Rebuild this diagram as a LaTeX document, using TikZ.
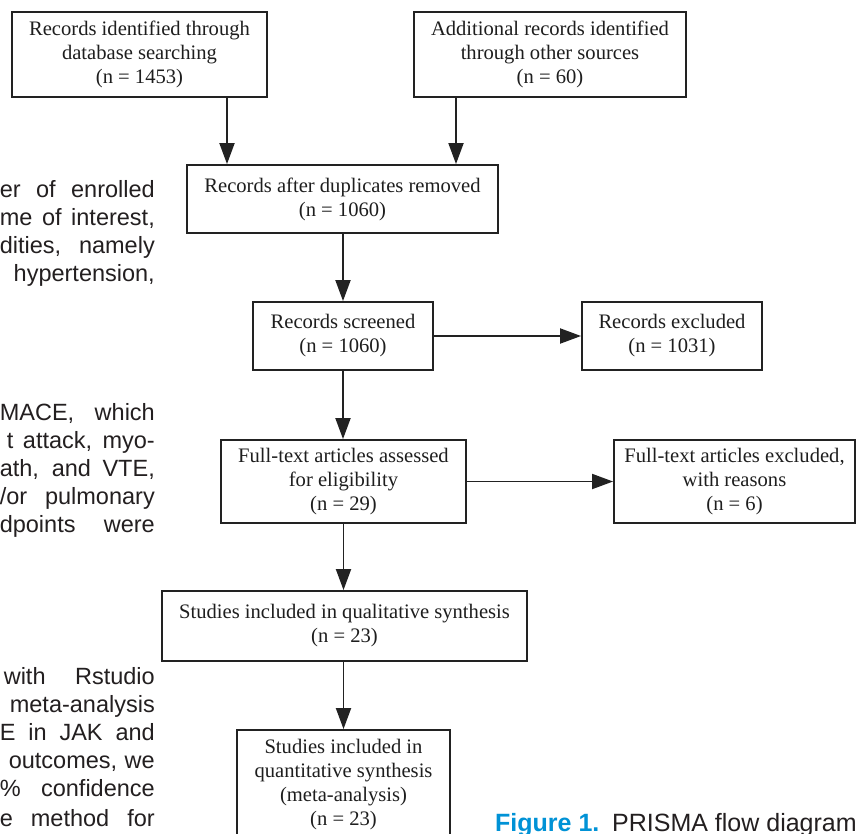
\documentclass[tikz,border=0pt]{standalone}
\usepackage{fontspec}
\setmainfont{Liberation Serif}
\newfontfamily\bodysans{Liberation Sans}
\usetikzlibrary{arrows.meta}
\definecolor{bodytext}{HTML}{231F20}
\definecolor{capblue}{RGB}{0,146,214}
\definecolor{boxline}{HTML}{222222}
\definecolor{boxtext}{HTML}{1E1E1E}
\begin{document}
\begin{tikzpicture}[x=1pt,y=-1pt,
  fbox/.style={draw=boxline, line width=1.9pt, text=boxtext, align=center,
    inner sep=0pt, font=\fontsize{20.6}{24}\selectfont},
  arr/.style={draw=boxline, line width=1.9pt, -{Triangle[length=21pt,width=15pt]}},
  sidetext/.style={anchor=base east, inner sep=0pt, text=bodytext,
    font=\bodysans\fontsize{23.5}{28}\selectfont},
  captext/.style={inner sep=0pt, font=\bodysans\fontsize{25}{28}\selectfont},
]
\useasboundingbox (0,0) rectangle (861,833);
\clip (0,0) rectangle (861,833);
\fill[white] (0,0) rectangle (861,833);

% boxes
\node[fbox, minimum width=255pt, minimum height=85pt] (A) at (139.5,54.5)
  {Records identified through\\database searching\\(n = 1453)};
\node[fbox, minimum width=272pt, minimum height=85pt] (B) at (550,54.5)
  {Additional records identified\\through other sources\\(n = 60)};
\node[fbox, minimum width=311pt, minimum height=68pt] (C) at (342.5,199)
  {Records after duplicates removed\\(n = 1060)};
\node[fbox, minimum width=180pt, minimum height=68pt] (D) at (343,336)
  {Records screened\\(n = 1060)};
\node[fbox, minimum width=180pt, minimum height=68pt] (E) at (672,336)
  {Records excluded\\(n = 1031)};
\node[fbox, minimum width=245pt, minimum height=83pt] (F) at (343.5,481.5)
  {Full-text articles assessed\\for eligibility\\(n = 29)};
\node[fbox, minimum width=241pt, minimum height=83pt] (G) at (734.5,481.5)
  {Full-text articles excluded,\\with reasons\\(n = 6)};
\node[fbox, minimum width=365pt, minimum height=70pt] (H) at (344.5,626)
  {Studies included in qualitative synthesis\\(n = 23)};
\node[fbox, minimum width=213pt, minimum height=110pt] (I) at (343.5,785)
  {Studies included in\\quantitative synthesis\\(meta-analysis)\\(n = 23)};

% connectors
\coordinate (ax) at (227,0);
\coordinate (bx) at (456,0);
\draw[arr] (A.south -| ax) -- (C.north -| ax);
\draw[arr] (B.south -| bx) -- (C.north -| bx);
\draw[arr] (C.south -| D.north) -- (D.north);
\draw[arr] (D.east) -- (E.west);
\draw[arr] (D.south) -- (D.south |- F.north);
\draw[arr] (F.east) -- (G.west);
\draw[arr] (F.south) -- (F.south |- H.north);
\draw[arr] (I.north |- H.south) -- (I.north);

% surrounding body text
\node[sidetext] (t1) at (155,197) {\makebox[155pt][s]{er of enrolled}};
\node[sidetext] (t2) at (155,225) {\makebox[155pt][s]{me of interest,}};
\node[sidetext] (t3) at (155,253) {\makebox[155pt][s]{dities, namely}};
\node[sidetext] (t4) at (155,281) {hypertension,};
\node[sidetext] (t5) at (155,420) {\makebox[155pt][s]{MACE, which}};
\node[sidetext] (t6) at (155,448) {\makebox[148pt][s]{t attack, myo-}};
\node[sidetext] (t7) at (155,476) {\makebox[155pt][s]{ath, and VTE,}};
\node[sidetext] (t8) at (155,504) {\makebox[155pt][s]{/or pulmonary}};
\node[sidetext] (t9) at (155,532) {\makebox[155pt][s]{dpoints were}};
\node[sidetext] (t10) at (155,684) {\makebox[151pt][s]{with Rstudio}};
\node[sidetext] (t11) at (155,712) {meta-analysis};
\node[sidetext] (t12) at (155,740) {\makebox[155pt][s]{E in JAK and}};
\node[sidetext] (t13) at (155,768) {\makebox[146pt][s]{outcomes, we}};
\node[sidetext] (t14) at (155,796) {\makebox[155pt][s]{\% confidence}};
\node[sidetext] (t15) at (155,826) {\makebox[155pt][s]{e method for}};

% caption
\node[captext, anchor=base west, text=capblue, font=\bodysans\bfseries\fontsize{25}{28}\selectfont] (cap1) at (495,831) {Figure 1.};
\node[captext, anchor=base west, text=bodytext] (cap2) at (612,831) {PRISMA flow diagram};
\end{tikzpicture}
\end{document}
